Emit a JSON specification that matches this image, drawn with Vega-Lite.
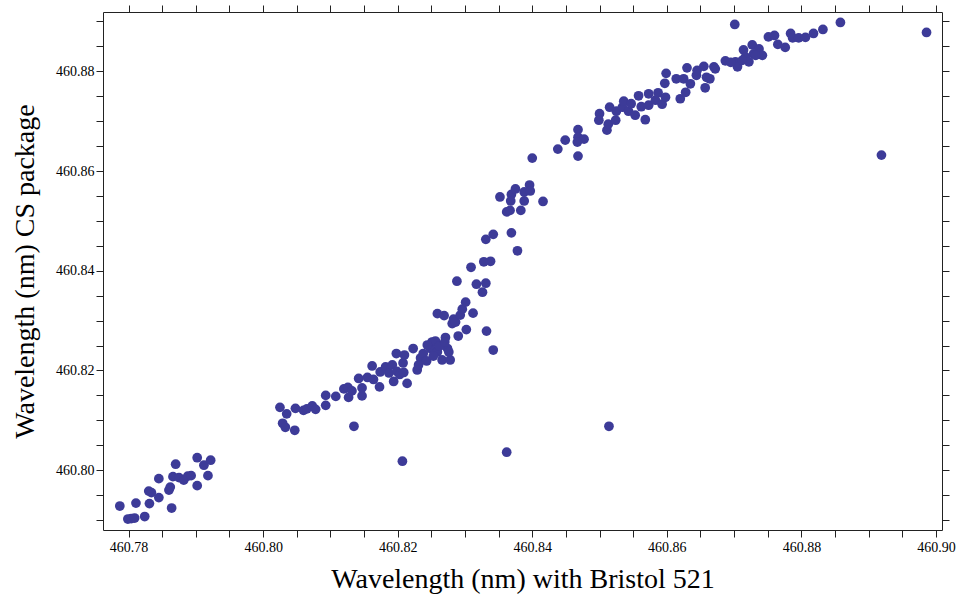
{
  "$schema": "https://vega.github.io/schema/vega-lite/v6.json",
  "autosize": {"type": "none"},
  "padding": {"left": 103, "top": 12, "right": 19, "bottom": 70},
  "width": 839,
  "height": 518,
  "background": "white",
  "config": {
    "view": {"stroke": null},
    "axis": {
      "grid": false,
      "domainColor": "#222222",
      "domainWidth": 1,
      "tickColor": "#222222",
      "tickWidth": 1,
      "tickSize": 7,
      "labelFont": "Liberation Serif",
      "labelFontSize": 14,
      "labelColor": "#000000",
      "labelOverlap": false,
      "labelFlush": false,
      "titleFont": "Liberation Serif",
      "titleFontSize": 28,
      "titleFontWeight": "normal",
      "titleColor": "#000000"
    }
  },
  "data": {"values": [
    {"bristol":460.7787,"cs":460.7928},{"bristol":460.7799,"cs":460.7902},{"bristol":460.7804,"cs":460.7903},{"bristol":460.7809,"cs":460.7904},{"bristol":460.7811,"cs":460.7934},{"bristol":460.7824,"cs":460.7907},{"bristol":460.7831,"cs":460.7933},{"bristol":460.7830,"cs":460.7958},{"bristol":460.7834,"cs":460.7955},{"bristol":460.7845,"cs":460.7945},{"bristol":460.7845,"cs":460.7983},{"bristol":460.7860,"cs":460.7960},{"bristol":460.7862,"cs":460.7966},{"bristol":460.7864,"cs":460.7924},{"bristol":460.7870,"cs":460.8012},{"bristol":460.7866,"cs":460.7987},{"bristol":460.7875,"cs":460.7985},{"bristol":460.7882,"cs":460.7980},{"bristol":460.7888,"cs":460.7988},{"bristol":460.7893,"cs":460.7989},{"bristol":460.7902,"cs":460.7969},{"bristol":460.7902,"cs":460.8025},{"bristol":460.7912,"cs":460.8010},{"bristol":460.7922,"cs":460.8020},{"bristol":460.7918,"cs":460.7989},
    {"bristol":460.8025,"cs":460.8126},{"bristol":460.8035,"cs":460.8113},{"bristol":460.8029,"cs":460.8094},{"bristol":460.8033,"cs":460.8086},{"bristol":460.8047,"cs":460.8080},{"bristol":460.8048,"cs":460.8124},{"bristol":460.8060,"cs":460.8120},{"bristol":460.8065,"cs":460.8123},{"bristol":460.8073,"cs":460.8129},{"bristol":460.8078,"cs":460.8122},{"bristol":460.8093,"cs":460.8130},{"bristol":460.8093,"cs":460.8150},{"bristol":460.8108,"cs":460.8148},{"bristol":460.8120,"cs":460.8163},{"bristol":460.8126,"cs":460.8166},{"bristol":460.8127,"cs":460.8146},{"bristol":460.8132,"cs":460.8159},{"bristol":460.8135,"cs":460.8088},{"bristol":460.8147,"cs":460.8149},{"bristol":460.8147,"cs":460.8165},{"bristol":460.8142,"cs":460.8184},{"bristol":460.8155,"cs":460.8186},{"bristol":460.8164,"cs":460.8182},{"bristol":460.8162,"cs":460.8209},{"bristol":460.8173,"cs":460.8167},{"bristol":460.8174,"cs":460.8197},{"bristol":460.8182,"cs":460.8207},{"bristol":460.8187,"cs":460.8195},{"bristol":460.8194,"cs":460.8178},{"bristol":460.8192,"cs":460.8211},{"bristol":460.8198,"cs":460.8234},{"bristol":460.8199,"cs":460.8198},{"bristol":460.8203,"cs":460.8192},{"bristol":460.8208,"cs":460.8215},{"bristol":460.8210,"cs":460.8231},{"bristol":460.8214,"cs":460.8174},{"bristol":460.8209,"cs":460.8196},{"bristol":460.8207,"cs":460.8018},
    {"bristol":460.8223,"cs":460.8244},{"bristol":460.8229,"cs":460.8201},{"bristol":460.8234,"cs":460.8225},{"bristol":460.8238,"cs":460.8234},{"bristol":460.8243,"cs":460.8219},{"bristol":460.8249,"cs":460.8244},{"bristol":460.8251,"cs":460.8257},{"bristol":460.8256,"cs":460.8259},{"bristol":460.8259,"cs":460.8237},{"bristol":460.8266,"cs":460.8221},{"bristol":460.8271,"cs":460.8266},{"bristol":460.8274,"cs":460.8244},{"bristol":460.8278,"cs":460.8221},{"bristol":460.8276,"cs":460.8237},{"bristol":460.8281,"cs":460.8294},{"bristol":460.8290,"cs":460.8269},{"bristol":460.8259,"cs":460.8314},{"bristol":460.8269,"cs":460.8310},{"bristol":460.8283,"cs":460.8303},{"bristol":460.8286,"cs":460.8297},{"bristol":460.8293,"cs":460.8311},{"bristol":460.8296,"cs":460.8323},{"bristol":460.8301,"cs":460.8337},{"bristol":460.8302,"cs":460.8282},{"bristol":460.8312,"cs":460.8315},{"bristol":460.8326,"cs":460.8357},{"bristol":460.8332,"cs":460.8279},{"bristol":460.8342,"cs":460.8241},{"bristol":460.8288,"cs":460.8379},{"bristol":460.8309,"cs":460.8407},{"bristol":460.8317,"cs":460.8373},{"bristol":460.8331,"cs":460.8375},{"bristol":460.8328,"cs":460.8418},{"bristol":460.8338,"cs":460.8419},{"bristol":460.8331,"cs":460.8463},{"bristol":460.8342,"cs":460.8473},{"bristol":460.8369,"cs":460.8476},{"bristol":460.8378,"cs":460.8440},{"bristol":460.8362,"cs":460.8518},{"bristol":460.8367,"cs":460.8521},{"bristol":460.8383,"cs":460.8521},{"bristol":460.8352,"cs":460.8548},{"bristol":460.8369,"cs":460.8553},{"bristol":460.8368,"cs":460.8540},{"bristol":460.8375,"cs":460.8564},{"bristol":460.8388,"cs":460.8558},{"bristol":460.8396,"cs":460.8572},{"bristol":460.8397,"cs":460.8560},{"bristol":460.8388,"cs":460.8540},{"bristol":460.8416,"cs":460.8539},{"bristol":460.8400,"cs":460.8626},{"bristol":460.8362,"cs":460.8036},
    {"bristol":460.8438,"cs":460.8644},{"bristol":460.8449,"cs":460.8662},{"bristol":460.8468,"cs":460.8683},{"bristol":460.8468,"cs":460.8668},{"bristol":460.8477,"cs":460.8664},{"bristol":460.8467,"cs":460.8658},{"bristol":460.8468,"cs":460.8630},{"bristol":460.8500,"cs":460.8715},{"bristol":460.8499,"cs":460.8702},{"bristol":460.8511,"cs":460.8682},{"bristol":460.8513,"cs":460.8694},{"bristol":460.8515,"cs":460.8728},{"bristol":460.8524,"cs":460.8702},{"bristol":460.8525,"cs":460.8720},{"bristol":460.8534,"cs":460.8728},{"bristol":460.8536,"cs":460.8740},{"bristol":460.8543,"cs":460.8720},{"bristol":460.8547,"cs":460.8735},{"bristol":460.8553,"cs":460.8712},{"bristol":460.8558,"cs":460.8751},{"bristol":460.8562,"cs":460.8729},{"bristol":460.8568,"cs":460.8703},{"bristol":460.8573,"cs":460.8732},{"bristol":460.8573,"cs":460.8755},{"bristol":460.8583,"cs":460.8742},{"bristol":460.8587,"cs":460.8757},{"bristol":460.8593,"cs":460.8734},{"bristol":460.8598,"cs":460.8748},{"bristol":460.8599,"cs":460.8796},{"bristol":460.8597,"cs":460.8776},{"bristol":460.8614,"cs":460.8785},{"bristol":460.8620,"cs":460.8745},{"bristol":460.8628,"cs":460.8758},{"bristol":460.8630,"cs":460.8807},{"bristol":460.8625,"cs":460.8785},{"bristol":460.8635,"cs":460.8775},{"bristol":460.8644,"cs":460.8792},{"bristol":460.8645,"cs":460.8802},{"bristol":460.8655,"cs":460.8810},{"bristol":460.8659,"cs":460.8788},{"bristol":460.8657,"cs":460.8767},{"bristol":460.8664,"cs":460.8785},{"bristol":460.8670,"cs":460.8809},{"bristol":460.8672,"cs":460.8805},{"bristol":460.8687,"cs":460.8821},{"bristol":460.8702,"cs":460.8819},{"bristol":460.8705,"cs":460.8809},{"bristol":460.8714,"cs":460.8843},{"bristol":460.8717,"cs":460.8829},{"bristol":460.8727,"cs":460.8853},{"bristol":460.8729,"cs":460.8835},{"bristol":460.8737,"cs":460.8845},{"bristol":460.8742,"cs":460.8832},{"bristol":460.8722,"cs":460.8819},{"bristol":460.8701,"cs":460.8894},{"bristol":460.8751,"cs":460.8869},{"bristol":460.8760,"cs":460.8872},{"bristol":460.8765,"cs":460.8854},{"bristol":460.8776,"cs":460.8848},{"bristol":460.8784,"cs":460.8876},{"bristol":460.8787,"cs":460.8867},{"bristol":460.8796,"cs":460.8867},{"bristol":460.8806,"cs":460.8868},{"bristol":460.8818,"cs":460.8876},{"bristol":460.8832,"cs":460.8884},{"bristol":460.8858,"cs":460.8898},{"bristol":460.8986,"cs":460.8878},{"bristol":460.8919,"cs":460.8632},{"bristol":460.8514,"cs":460.8088},{"bristol":460.8712,"cs":460.8822},{"bristol":460.8732,"cs":460.8832},{"bristol":460.8244,"cs":460.8251},{"bristol":460.8262,"cs":460.8249},{"bristol":460.8231,"cs":460.8211},{"bristol":460.8253,"cs":460.8229},{"bristol":460.8270,"cs":460.8257},{"bristol":460.8695,"cs":460.8818}
  ]},
  "resolve": {"axis": {"x": "independent", "y": "independent"}},
  "layer": [
    {
      "mark": {"type": "point", "filled": true, "shape": "circle", "size": 95, "color": "#3d3b98", "opacity": 1},
      "encoding": {
        "x": {
          "field": "bristol", "type": "quantitative",
          "scale": {"domain": [460.7762, 460.9009], "nice": false, "zero": false},
          "axis": {
            "orient": "bottom",
            "title": "Wavelength (nm) with Bristol 521",
            "values": [460.78,460.785,460.79,460.795,460.80,460.805,460.81,460.815,460.82,460.825,460.83,460.835,460.84,460.845,460.85,460.855,460.86,460.865,460.87,460.875,460.88,460.885,460.89,460.895,460.90],
            "labelExpr": "round(datum.value*1000) % 20 === 0 ? format(datum.value, '.2f') : ''",
            "labelPadding": 3,
            "titlePadding": 11,
            "encode": {"ticks": {"update": {"y2": {"signal": "round(datum.value*1000) % 20 === 0 ? -7 : -4"}}}}
          }
        },
        "y": {
          "field": "cs", "type": "quantitative",
          "scale": {"domain": [460.7880, 460.8919], "nice": false, "zero": false},
          "axis": {
            "orient": "left",
            "title": "Wavelength (nm) CS package",
            "values": [460.79,460.795,460.80,460.805,460.81,460.815,460.82,460.825,460.83,460.835,460.84,460.845,460.85,460.855,460.86,460.865,460.87,460.875,460.88,460.885,460.89],
            "labelExpr": "round(datum.value*1000) % 20 === 0 ? format(datum.value, '.2f') : ''",
            "labelPadding": 2,
            "titlePadding": 16,
            "encode": {"ticks": {"update": {"x2": {"signal": "round(datum.value*1000) % 20 === 0 ? 7 : 4"}}}}
          }
        }
      }
    },
    {
      "mark": {"type": "point", "filled": true, "size": 95, "opacity": 0},
      "encoding": {
        "x": {
          "field": "bristol", "type": "quantitative",
          "axis": {
            "orient": "top",
            "title": null,
            "labels": false,
            "values": [460.78,460.785,460.79,460.795,460.80,460.805,460.81,460.815,460.82,460.825,460.83,460.835,460.84,460.845,460.85,460.855,460.86,460.865,460.87,460.875,460.88,460.885,460.89,460.895,460.90],
            "encode": {"ticks": {"update": {"y2": {"signal": "round(datum.value*1000) % 20 === 0 ? 7 : 4"}}}}
          }
        },
        "y": {
          "field": "cs", "type": "quantitative",
          "axis": {
            "orient": "right",
            "title": null,
            "labels": false,
            "values": [460.79,460.795,460.80,460.805,460.81,460.815,460.82,460.825,460.83,460.835,460.84,460.845,460.85,460.855,460.86,460.865,460.87,460.875,460.88,460.885,460.89],
            "encode": {"ticks": {"update": {"x2": {"signal": "round(datum.value*1000) % 20 === 0 ? -7 : -4"}}}}
          }
        }
      }
    }
  ]
}
